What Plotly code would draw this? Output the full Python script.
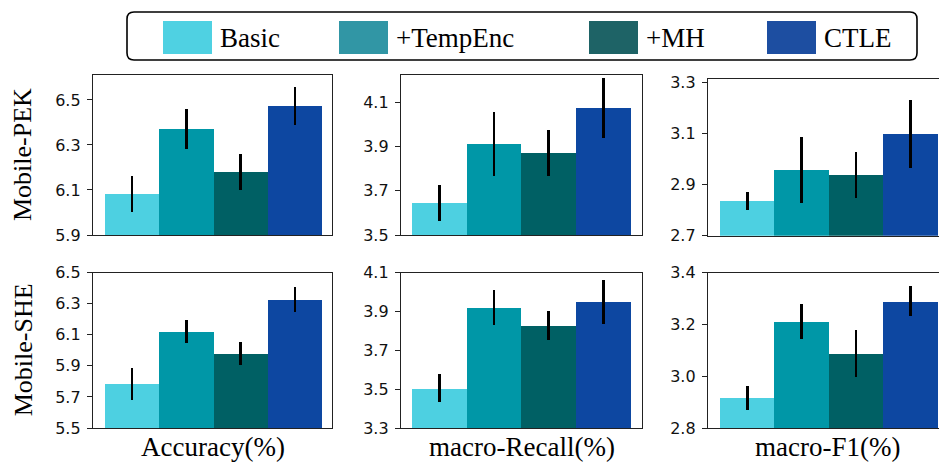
import plotly.graph_objects as go

# ---------------- data ----------------
categories = ["Basic", "+TempEnc", "+MH", "CTLE"]
metrics = ["Accuracy(%)", "macro-Recall(%)", "macro-F1(%)"]
datasets = ["Mobile-PEK", "Mobile-SHE"]

pek_acc = [6.082, 6.371, 6.180, 6.473]
pek_acc_err = [0.080, 0.090, 0.080, 0.085]
pek_rec = [3.644, 3.910, 3.870, 4.073]
pek_rec_err = [0.080, 0.145, 0.105, 0.135]
pek_f1 = [2.836, 2.958, 2.938, 3.098]
pek_f1_err = [0.037, 0.130, 0.090, 0.132]

she_acc = [5.783, 6.120, 5.977, 6.327]
she_acc_err = [0.100, 0.075, 0.073, 0.082]
she_rec = [3.505, 3.918, 3.828, 3.949]
she_rec_err = [0.072, 0.090, 0.076, 0.112]
she_f1 = [2.916, 3.211, 3.089, 3.289]
she_f1_err = [0.046, 0.068, 0.091, 0.058]

pek_ticks_acc = [5.9, 6.1, 6.3, 6.5]
pek_ticks_rec = [3.5, 3.7, 3.9, 4.1]
pek_ticks_f1 = [2.7, 2.9, 3.1, 3.3]
she_ticks_acc = [5.5, 5.7, 5.9, 6.1, 6.3, 6.5]
she_ticks_rec = [3.3, 3.5, 3.7, 3.9, 4.1]
she_ticks_f1 = [2.8, 3.0, 3.2, 3.4]

# ---------------- styling ----------------
W, H = 939, 465
bar_colors = ["#4dd0e1", "#0097a7", "#006064", "#0d47a1"]
legend_colors = ["#4fd1e2", "#3196a5", "#1e6366", "#1d4ea1"]
SERIF = "Liberation Serif, Times New Roman, serif"
SANS = "DejaVu Sans, sans-serif"
LINE = "#222222"

def px_x(p):
    return p / W

def px_y(p):
    return 1 - p / H

panels = [
    (pek_acc, pek_acc_err, pek_ticks_acc, [5.9, 6.611], (93, 332), (75, 235), [-0.72, 3.68], True),
    (pek_rec, pek_rec_err, pek_ticks_rec, [3.5, 4.222], (401, 642), (75, 235), [-0.70, 3.71], True),
    (pek_f1, pek_f1_err, pek_ticks_f1, [2.7, 3.313], (708, 939), (79.3, 235.7), [-0.72, 3.52], False),
    (she_acc, she_acc_err, she_ticks_acc, [5.5, 6.5], (93, 332), (272.5, 428), [-0.72, 3.68], True),
    (she_rec, she_rec_err, she_ticks_rec, [3.3, 4.1], (401, 642), (272.5, 428), [-0.70, 3.71], True),
    (she_f1, she_f1_err, she_ticks_f1, [2.8, 3.4], (708, 939), (272.5, 428), [-0.72, 3.52], False),
]

fig = go.Figure()
layout = dict(
    width=W, height=H,
    margin=dict(l=0, r=0, t=0, b=0, pad=0, autoexpand=False),
    paper_bgcolor="white", plot_bgcolor="white",
    showlegend=False,
    bargap=0,
)

xpos = list(range(len(categories)))
for i, (vals, errs, ticks, yr, xd, yd, xr, mirror_right) in enumerate(panels):
    n = "" if i == 0 else str(i + 1)
    fig.add_trace(go.Bar(
        x=xpos, y=vals, width=1.0,
        marker=dict(color=bar_colors, line=dict(width=0)),
        error_y=dict(type="data", array=errs, visible=True, color="black",
                     thickness=2.6, width=0),
        xaxis="x" + n, yaxis="y" + n,
        hovertext=categories, showlegend=False,
    ))
    layout["xaxis" + n] = dict(
        domain=[px_x(xd[0]), px_x(xd[1])], range=xr, anchor="y" + n,
        showticklabels=False, ticks="", showgrid=False, zeroline=False,
        showline=True, linecolor=LINE, linewidth=1.3, mirror=True,
        automargin=False,
    )
    layout["yaxis" + n] = dict(
        domain=[px_y(yd[1]), px_y(yd[0])], range=yr, anchor="x" + n,
        tickvals=ticks, ticktext=["%.1f" % t for t in ticks],
        ticks="outside", ticklen=5, tickwidth=1.3, tickcolor=LINE,
        ticklabelstandoff=3,
        tickfont=dict(family=SANS, size=16, color="#111111"),
        showgrid=False, zeroline=False,
        showline=True, linecolor=LINE, linewidth=1.3,
        mirror=True if mirror_right else False,
        automargin=False,
    )

fig.update_layout(**layout)

annotations = []
for name, (a, b) in zip(metrics, [(93, 332), (401, 642), (708, 947)]):
    annotations.append(dict(
        x=px_x((a + b) / 2), y=px_y(464), xref="paper", yref="paper",
        text=name, showarrow=False, xanchor="center", yanchor="bottom",
        font=dict(family=SERIF, size=27, color="black"),
    ))
for name, (a, b) in zip(datasets, [(75, 235), (272.5, 428)]):
    annotations.append(dict(
        x=px_x(23), y=px_y((a + b) / 2), xref="paper", yref="paper",
        text=name, textangle=-90, showarrow=False, xanchor="center", yanchor="middle",
        font=dict(family=SERIF, size=26, color="black"),
    ))

shapes = []
bx0, by0, bx1, by1, r = 127, 12, 917, 60, 7
X = px_x
Y = px_y
rx, ry = r / W, r / H
path = (
    f"M {X(bx0)+rx},{Y(by0)} L {X(bx1)-rx},{Y(by0)} Q {X(bx1)},{Y(by0)} {X(bx1)},{Y(by0)-ry} "
    f"L {X(bx1)},{Y(by1)+ry} Q {X(bx1)},{Y(by1)} {X(bx1)-rx},{Y(by1)} "
    f"L {X(bx0)+rx},{Y(by1)} Q {X(bx0)},{Y(by1)} {X(bx0)},{Y(by1)+ry} "
    f"L {X(bx0)},{Y(by0)-ry} Q {X(bx0)},{Y(by0)} {X(bx0)+rx},{Y(by0)} Z"
)
shapes.append(dict(type="path", xref="paper", yref="paper", path=path,
                   line=dict(color="black", width=1.6), fillcolor="white", layer="below"))
patch_left = [163, 339, 589, 767]
for name, col, pl in zip(categories, legend_colors, patch_left):
    shapes.append(dict(type="rect", xref="paper", yref="paper",
                       x0=X(pl), x1=X(pl + 49), y0=Y(54), y1=Y(21),
                       fillcolor=col, line=dict(width=0)))
    annotations.append(dict(
        x=X(pl + 55), y=Y(38), xref="paper", yref="paper", text=name,
        showarrow=False, xanchor="left", yanchor="middle",
        font=dict(family=SERIF, size=27, color="black"),
    ))

fig.update_layout(annotations=annotations, shapes=shapes)
fig.write_html("out.html", config={"displayModeBar": False},
               post_script="document.body.style.margin='0';")
